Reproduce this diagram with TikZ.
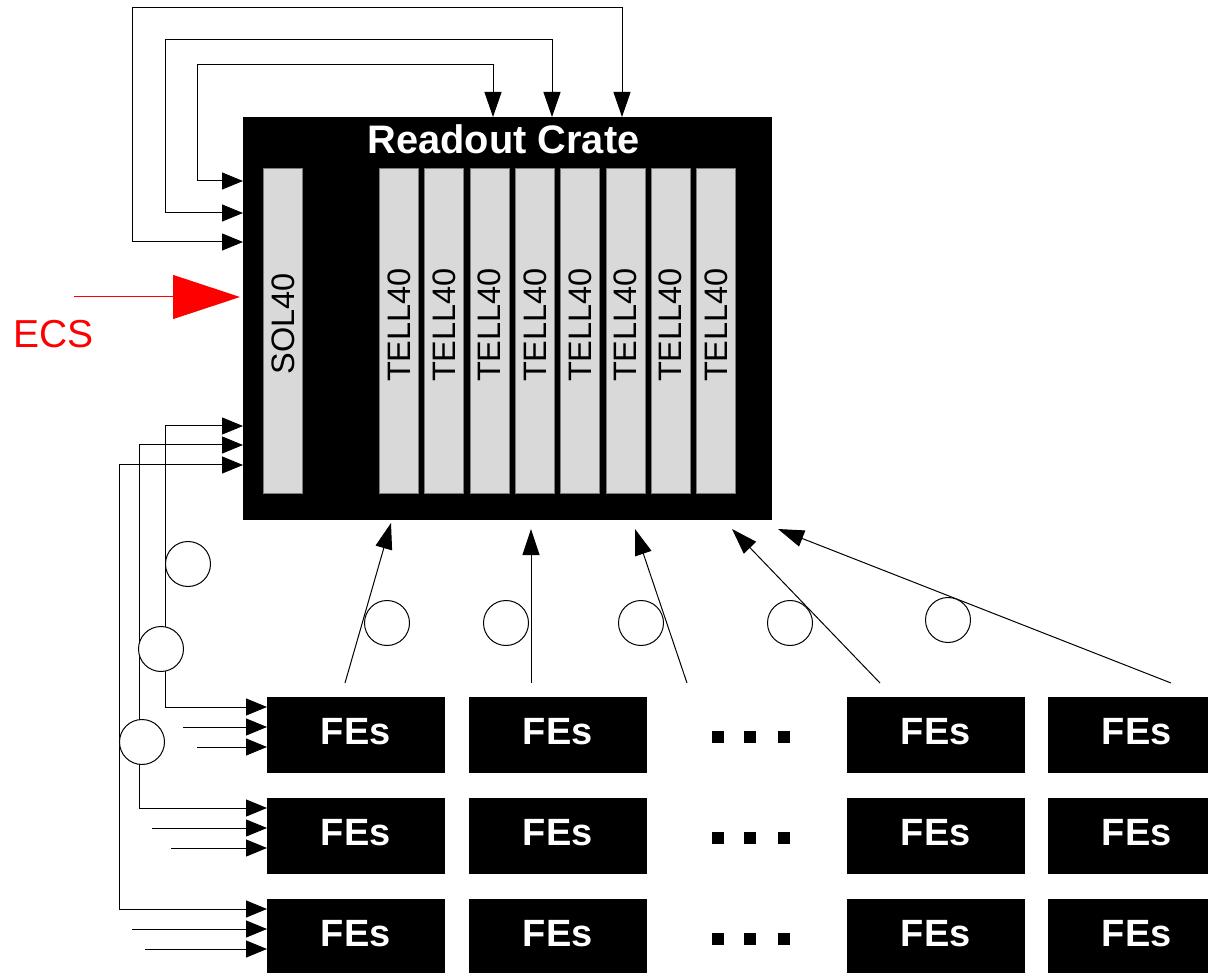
\documentclass[tikz,border=0pt]{standalone}
\usepackage{fontspec}
\setmainfont{Liberation Sans}
\usetikzlibrary{arrows.meta}
\definecolor{boxgray}{RGB}{217,217,217}
\definecolor{boxedge}{RGB}{125,125,125}
\begin{document}
\begin{tikzpicture}[x=1pt,y=-1pt,
  link/.style={line width=1pt, black},
  crateshape/.style={fill=black, draw=none, inner sep=0, minimum width=529pt, minimum height=403pt},
  card/.style={fill=boxgray, draw=boxedge, line width=0.8pt, inner sep=0, minimum width=39pt, minimum height=325pt},
  cardtext/.style={rotate=90, inner sep=0, font=\fontsize{32.5}{34}\selectfont},
  fe/.style={fill=black, draw=none, inner sep=0, minimum width=177.5pt, minimum height=76pt, text=white, text depth=6.5pt, font=\bfseries\fontsize{38}{40}\selectfont},
  sq/.style={fill=black, draw=none, inner sep=0, minimum size=12pt},
  cable/.style={circle, draw=black, fill=white, line width=1pt, inner sep=0, minimum size=45pt},
  twoway/.style={link, {Triangle[length=21pt,width=17pt]}-{Triangle[length=21pt,width=17pt]}},
  loopway/.style={link, {Triangle[length=21pt,width=17pt]}-{Triangle[length=25pt,width=17pt]}},
  oneway/.style={link, -{Triangle[length=21pt,width=17pt]}},
  upway/.style={link, -{Triangle[length=26pt,width=17pt]}}
]
\useasboundingbox (0,0) rectangle (1208,973);

% crate
\node[crateshape] (crate) at (507.5,318.5) {};
\node[anchor=base, inner sep=0, text=white, font=\bfseries\fontsize{39.8}{42}\selectfont] (title) at (503.5,154) {Readout Crate};

% cards
\node[card] (sol) at (282.5,331) {};
\node[cardtext] (soltxt) at (283,324) {SOL40};
\foreach \i in {0,...,7}{
  \pgfmathsetmacro{\cx}{399+45.3*\i}
  \node[card] (tell\i) at (\cx,331) {};
  \node[cardtext] (telltxt\i) at (\cx,325) {TELL40};
}

% FE boxes
\foreach \r/\y in {1/735,2/836,3/937}{
  \node[fe] (fe\r a) at (355.75,\y) {FEs};
  \node[fe] (fe\r b) at (557.75,\y) {FEs};
  \node[fe] (fe\r c) at (935.75,\y) {FEs};
  \node[fe] (fe\r d) at (1136.75,\y) {FEs};
}
% dots
\foreach \r/\y in {1/737,2/838,3/939}{
  \node[sq] (d\r a) at (717.5,\y) {};
  \node[sq] (d\r b) at (750,\y) {};
  \node[sq] (d\r c) at (784,\y) {};
}

% ECS
\node[anchor=base, inner sep=0, text=red, font=\fontsize{39}{41}\selectfont] (ecs) at (53.5,348) {ECS};
\coordinate (ecsA) at (74,297);
\coordinate (ecsB) at (240,297);
\draw[red, line width=1pt, -{Triangle[length=67pt,width=44pt]}] (ecsA) -- (ecsB);

% feedback loops at the top
\coordinate (inL1) at (243,181); \coordinate (inT1) at (493,117);
\coordinate (inL2) at (243,213); \coordinate (inT2) at (552,117);
\coordinate (inL3) at (243,242); \coordinate (inT3) at (622,117);
\draw[loopway] (inL1) -- ++(-46,0) |- ([yshift=52pt]inT1) -- (inT1);
\draw[loopway] (inL2) -- ++(-78,0) |- ([yshift=77.5pt]inT2) -- (inT2);
\draw[loopway] (inL3) -- ++(-111,0) |- ([yshift=109.5pt]inT3) -- (inT3);

% links from crate to FE rows
\coordinate (sA) at (243,426); \coordinate (fA) at (267,707);
\coordinate (sB) at (243,445); \coordinate (fB) at (267,808);
\coordinate (sC) at (243,465); \coordinate (fC) at (267,909);
\draw[twoway] (sA) -- ++(-78,0) |- (fA);
\draw[twoway] (sB) -- ++(-104,0) |- (fB);
\draw[twoway] (sC) -- ++(-124,0) |- (fC);

% short inputs to FE rows
\foreach \n/\x/\y in {a1/183/727, a2/197/747, b1/152/828, b2/171/848, c1/132/929, c2/145/949}{
  \coordinate (src\n) at (\x,\y);
  \coordinate (dst\n) at (267,\y);
  \draw[oneway] (src\n) -- (dst\n);
}

% data links FE -> crate
\foreach \n/\xa/\xb/\yb in {1/345/391/523, 2/531/531/529, 3/687/635/529, 4/880/732/529, 5/1171/778/529}{
  \coordinate (up\n) at (\xa,683);
  \coordinate (tip\n) at (\xb,\yb);
  \draw[upway] (up\n) -- (tip\n);
}

% cable markers
\node[cable] (c1) at (188,564) {};
\node[cable] (c2) at (161,649) {};
\node[cable] (c3) at (142,742) {};
\node[cable] (c4) at (387,623) {};
\node[cable] (c5) at (506,623) {};
\node[cable] (c6) at (641,623) {};
\node[cable] (c7) at (790,623) {};
\node[cable] (c8) at (948,620) {};
\end{tikzpicture}
\end{document}
